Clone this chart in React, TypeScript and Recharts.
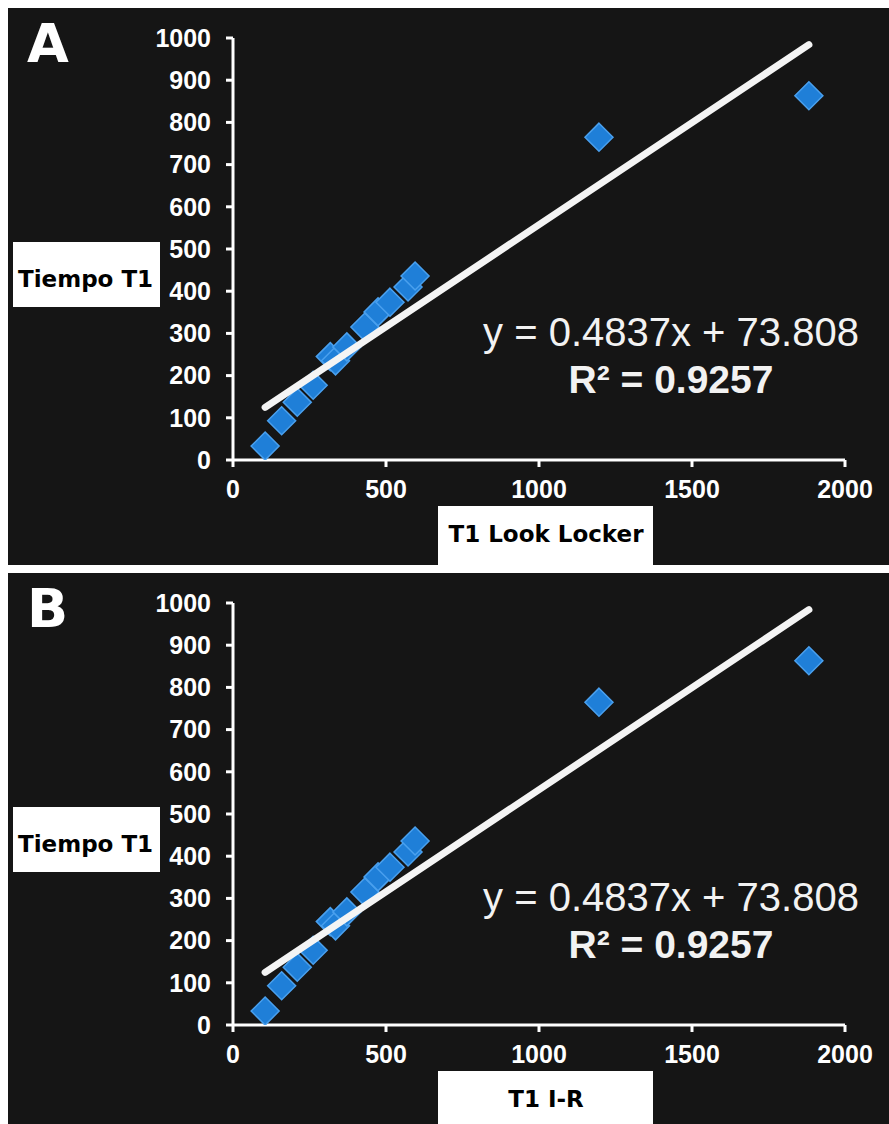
import { ScatterChart, Scatter, XAxis, YAxis } from 'recharts';

const t1Method = [105, 159, 210, 262, 318, 335, 372, 431, 474, 513, 572, 595, 1196, 1882];
const tiempoT1 = [33, 93, 137, 177, 245, 235, 268, 315, 351, 374, 410, 436, 765, 863];

const xTicks = [0, 500, 1000, 1500, 2000];
const yTicks = [0, 100, 200, 300, 400, 500, 600, 700, 800, 900, 1000];

// linear trendline as printed on the chart
const slope = 0.4837;
const intercept = 73.808;
const trendX = [105, 1882];

const points = t1Method.map((x, i) => ({ x, y: tiempoT1[i] }));
const trend = trendX.map((x) => ({ x, y: slope * x + intercept }));

const W = 881;
const H = 557;

const tickStyle = {
  fill: '#ffffff',
  fontSize: 25,
  fontWeight: 700,
  fontFamily: "'Liberation Sans', Arial, sans-serif",
};

const labelFont = "'DejaVu Sans', 'Liberation Sans', sans-serif";

function Diamond(props: any) {
  const { cx, cy } = props;
  const r = 14;
  return (
    <polygon
      points={`${cx},${cy - r} ${cx + r},${cy} ${cx},${cy + r} ${cx - r},${cy}`}
      fill="#1f7fd8"
      stroke="#4aa0ee"
      strokeWidth={1.5}
    />
  );
}

function Panel({ letter, xLabel, top, height }: { letter: string; xLabel: string; top: number; height: number }) {
  return (
    <div
      style={{
        position: 'absolute',
        left: 8,
        top,
        width: W,
        height,
        background: '#151515',
        overflow: 'hidden',
      }}
    >
      <ScatterChart width={W} height={H} margin={{ top: 30, right: 44, bottom: 0, left: 0 }}>
        <XAxis
          type="number"
          dataKey="x"
          domain={[0, 2000]}
          ticks={xTicks}
          height={105}
          axisLine={{ stroke: '#ffffff', strokeWidth: 3 }}
          tickLine={{ stroke: '#ffffff', strokeWidth: 3 }}
          tickSize={7}
          tickMargin={13}
          tick={tickStyle}
          allowDataOverflow
        />
        <YAxis
          type="number"
          dataKey="y"
          domain={[0, 1000]}
          ticks={yTicks}
          width={225}
          axisLine={{ stroke: '#ffffff', strokeWidth: 3 }}
          tickLine={{ stroke: '#ffffff', strokeWidth: 3 }}
          tickSize={7}
          tickMargin={15}
          tick={tickStyle}
          allowDataOverflow
        />
        <Scatter data={points} shape={<Diamond />} isAnimationActive={false} />
        <Scatter
          data={trend}
          line={{ stroke: '#f4f4f4', strokeWidth: 7, strokeLinecap: 'round' }}
          shape={() => <g />}
          isAnimationActive={false}
        />
      </ScatterChart>
      <svg
        width={W}
        height={H}
        style={{ position: 'absolute', left: 0, top: 0, pointerEvents: 'none' }}
      >
        <text x={19} y={54} fill="#ffffff" fontSize={54} fontWeight={700} fontFamily={labelFont}>
          {letter}
        </text>
        <rect x={5} y={234} width={147} height={65} fill="#ffffff" />
        <text x={10} y={279} fill="#000000" fontSize={23} fontWeight={700} fontFamily={labelFont}>
          Tiempo T1
        </text>
        <rect x={430} y={498} width={215} height={59} fill="#ffffff" />
        <text x={538} y={534} textAnchor="middle" fill="#000000" fontSize={23} fontWeight={700} fontFamily={labelFont}>
          {xLabel}
        </text>
        <text
          x={663}
          y={338}
          textAnchor="middle"
          fill="#f2f2f2"
          fontSize={40}
          fontFamily="'Liberation Sans', Arial, sans-serif"
        >
          y = 0.4837x + 73.808
        </text>
        <text
          x={663}
          y={385}
          textAnchor="middle"
          fill="#f2f2f2"
          fontSize={39}
          fontWeight={700}
          fontFamily="'Liberation Sans', Arial, sans-serif"
        >
          R² = 0.9257
        </text>
      </svg>
    </div>
  );
}

export default function App() {
  return (
    <div
      style={{
        position: 'fixed',
        left: 0,
        top: 0,
        width: 889,
        height: 1124,
        background: '#ffffff',
        overflow: 'hidden',
      }}
    >
      <Panel letter="A" xLabel="T1 Look Locker" top={8} height={557} />
      <Panel letter="B" xLabel="T1 I-R" top={573} height={551} />
    </div>
  );
}
